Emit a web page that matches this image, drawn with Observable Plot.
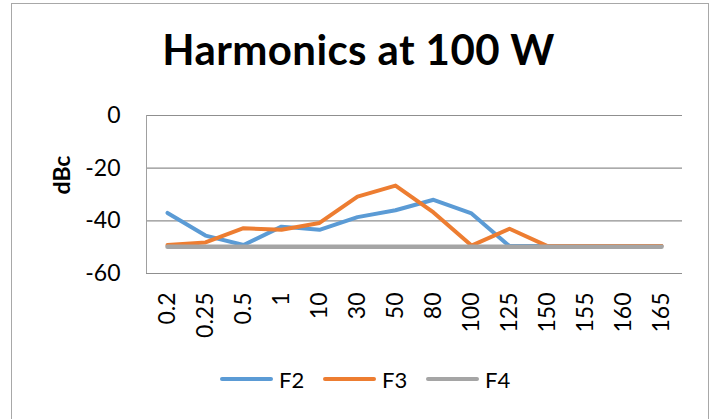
<!DOCTYPE html>
<html>
<head>
<meta charset="utf-8">
<script src="https://cdn.jsdelivr.net/npm/d3@7"></script>
<script src="https://cdn.jsdelivr.net/npm/@observablehq/plot@0.6"></script>
<style>
  html, body { margin: 0; padding: 0; background: #fff; overflow: hidden; }
  #chart { position: relative; width: 717px; height: 419px; overflow: hidden; font-family: Lato, "Open Sans", sans-serif; color: #111; }
  #frame { position: absolute; left: 11px; top: 3px; width: 698px; height: 440px; border: 1.5px solid #a8a8a8; box-sizing: border-box; }
  #title { position: absolute; left: 0; width: 717px; top: 22px; text-align: center; font-weight: 700; font-size: 42px; letter-spacing: 0.4px; line-height: 54px; color: #000; }
  #plot { position: absolute; left: 0; top: 0; }
  #yline { position: absolute; left: 146px; top: 115px; width: 1px; height: 158px; background: #a0a0a0; }
  .leg { position: absolute; top: 366px; height: 26px; display: flex; align-items: center; font-size: 22px; color: #000; }
  .leg span.sw { display: inline-block; width: 53px; height: 4px; border-radius: 2px; margin-right: 6px; }
</style>
</head>
<body>
<div id="chart">
  <div id="frame"></div>
  <div id="title">Harmonics at 100 W</div>
  <div id="plot"></div>
  <div id="yline"></div>
  <div id="legend"></div>
</div>
<script>
const categories = ["0.2","0.25","0.5","1","10","30","50","80","100","125","150","155","160","165"];
const F2 = [-37, -45.6, -49.2, -42.2, -43.4, -38.6, -36, -32, -37.2, -49.6, -49.6, -49.6, -49.6, -49.6];
const F3 = [-49.2, -48.2, -42.8, -43.4, -40.8, -30.8, -26.6, -36.8, -49.4, -43, -49.6, -49.6, -49.6, -49.6];
const F4 = [-49.8, -49.8, -49.8, -49.8, -49.8, -49.8, -49.8, -49.8, -49.8, -49.8, -49.8, -49.8, -49.8, -49.8];
const seriesNames = ["F2", "F3", "F4"];
const seriesColors = ["#5B9BD5", "#ED7D31", "#A5A5A5"];
const yTicks = [0, -20, -40, -60];
const yLabel = "dBc";

const seriesValues = [F2, F3, F4];
const data = [];
seriesNames.forEach((s, si) => categories.forEach((c, i) => data.push({series: s, cat: c, value: seriesValues[si][i]})));

const plot = Plot.plot({
  width: 717,
  height: 419,
  marginLeft: 146,
  marginRight: 35,
  marginTop: 115,
  marginBottom: 146,
  style: { fontFamily: "Lato, 'Open Sans', sans-serif", fontSize: "23px", color: "#000", background: "transparent" },
  x: { type: "point", domain: categories, padding: 0.5 },
  y: { domain: [-60, 0] },
  marks: [
    Plot.ruleY(yTicks, { stroke: "#8f8f8f", strokeWidth: 1.2 }),
    ...seriesNames.map((s, si) =>
      Plot.line(data.filter(d => d.series === s), {
        x: "cat", y: "value", stroke: seriesColors[si],
        strokeWidth: si === 2 ? 4.5 : 4, strokeLinejoin: "round", strokeLinecap: "round"
      })
    ),
    Plot.axisY({ ticks: yTicks, tickSize: 0, tickPadding: 26, label: null, fontSize: 23, tickFormat: d => String(d) }),
    Plot.axisX({ tickSize: 0, tickRotate: -90, tickPadding: 19, label: null, fontSize: 23 }),
    Plot.text([yLabel], { frameAnchor: "left", text: d => d, rotate: -90, dx: -84, fontWeight: "bold", fontSize: 23 })
  ]
});
document.getElementById("plot").appendChild(plot);

const legendX = [220, 323, 426];
const legend = document.getElementById("legend");
seriesNames.forEach((s, i) => {
  const item = document.createElement("div");
  item.className = "leg";
  item.style.left = legendX[i] + "px";
  item.innerHTML = `<span class="sw" style="background:${seriesColors[i]}"></span>${s}`;
  legend.appendChild(item);
});
</script>
</body>
</html>
